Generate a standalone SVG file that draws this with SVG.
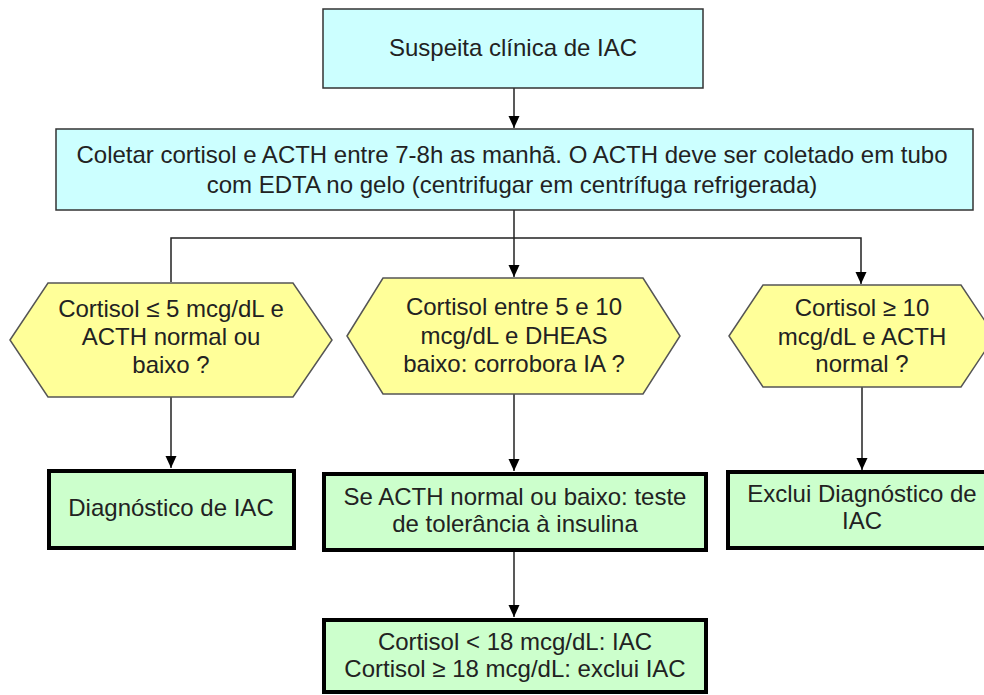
<svg xmlns="http://www.w3.org/2000/svg" width="984" height="695" viewBox="0 0 984 695">
<defs>
<style>
text{font-family:"Liberation Sans",Arial,sans-serif;font-size:24px;fill:#222;text-anchor:middle}
.blue{fill:#CCFFFF;stroke:#333;stroke-width:1.5}
.hex{fill:#FFFF99;stroke:#555;stroke-width:1.5}
.green{fill:#CCFFCC;stroke:#000;stroke-width:4}
.conn{fill:none;stroke:#222;stroke-width:1.5}
</style>
<marker id="ah" viewBox="0 0 12 12" refX="12" refY="6" markerWidth="12" markerHeight="12" markerUnits="userSpaceOnUse" orient="auto">
<path d="M0,0.5 L12,6 L0,11.5 Z" fill="#000"/>
</marker>
</defs>
<rect width="984" height="695" fill="#fff"/>
<g id="connectors">
<path class="conn" d="M514,88 V128" marker-end="url(#ah)"/>
<path class="conn" d="M514,210 V277" marker-end="url(#ah)"/>
<path class="conn" d="M171,282 V238 H861 V284" marker-end="url(#ah)"/>
<path class="conn" d="M171,397 V468" marker-end="url(#ah)"/>
<path class="conn" d="M514,394 V471" marker-end="url(#ah)"/>
<path class="conn" d="M862,387 V470" marker-end="url(#ah)"/>
<path class="conn" d="M514,550 V617" marker-end="url(#ah)"/>
</g>
<g id="n1">
<rect class="blue" x="323" y="9" width="380" height="79"/>
<text x="513" y="56">Suspeita clínica de IAC</text>
</g>
<g id="n2">
<rect class="blue" x="56" y="129" width="917" height="81"/>
<text x="512" y="163">Coletar cortisol e ACTH entre 7-8h as manhã. O ACTH deve ser coletado em tubo</text>
<text x="512" y="193">com EDTA no gelo (centrifugar em centrífuga refrigerada)</text>
</g>
<g id="h1">
<polygon class="hex" points="10,340 48,283 293,283 332,340 293,397 48,397"/>
<text x="171" y="317">Cortisol ≤ 5 mcg/dL e</text>
<text x="171" y="345">ACTH normal ou</text>
<text x="171" y="373">baixo ?</text>
</g>
<g id="h2">
<polygon class="hex" points="347,336 383,278 643,278 680,336 643,394 383,394"/>
<text x="514" y="315">Cortisol entre 5 e 10</text>
<text x="514" y="344">mcg/dL e DHEAS</text>
<text x="514" y="372">baixo: corrobora IA ?</text>
</g>
<g id="h3">
<polygon class="hex" points="729,336 763,285 961,285 995,336 961,387 763,387"/>
<text x="862" y="316">Cortisol ≥ 10</text>
<text x="862" y="345">mcg/dL e ACTH</text>
<text x="862" y="372">normal ?</text>
</g>
<g id="g1">
<rect class="green" x="49" y="471" width="245" height="77"/>
<text x="171" y="516">Diagnóstico de IAC</text>
</g>
<g id="g2">
<rect class="green" x="324" y="474" width="382" height="76"/>
<text x="515" y="505">Se ACTH normal ou baixo: teste</text>
<text x="515" y="532">de tolerância à insulina</text>
</g>
<g id="g3">
<rect class="green" x="728" y="472" width="270" height="76"/>
<text x="862" y="502">Exclui Diagnóstico de</text>
<text x="862" y="529">IAC</text>
</g>
<g id="g4">
<rect class="green" x="324" y="620" width="382" height="72"/>
<text x="515" y="650">Cortisol &lt; 18 mcg/dL: IAC</text>
<text x="515" y="677">Cortisol ≥ 18 mcg/dL: exclui IAC</text>
</g>
</svg>
